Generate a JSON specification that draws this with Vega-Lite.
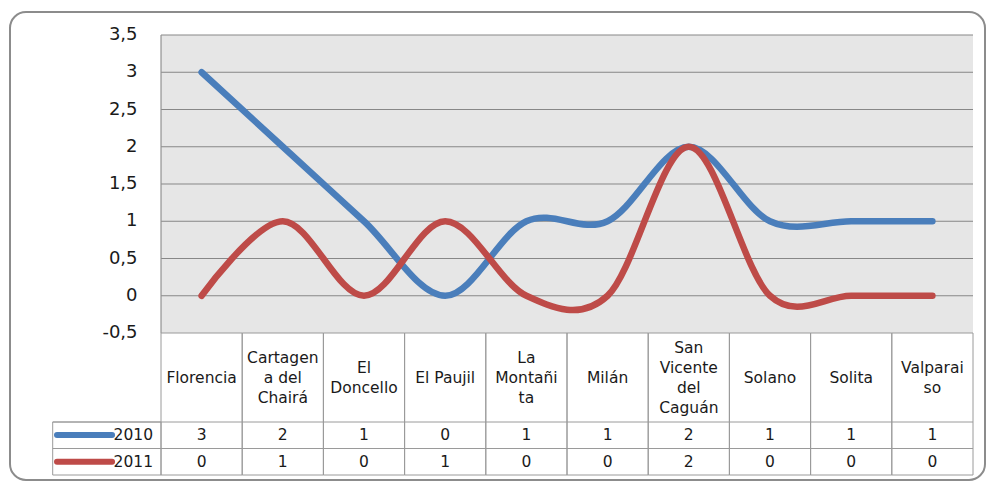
{
  "$schema": "https://vega.github.io/schema/vega-lite/v6.json",
  "width": 975,
  "height": 468,
  "autosize": {"type": "none"},
  "padding": {"left": 10, "top": 12, "right": 2, "bottom": 1},
  "background": "white",
  "config": {
    "view": {"stroke": "#8c8c8c", "strokeWidth": 2, "cornerRadius": 16, "fill": "white"},
    "font": "DejaVu Sans",
    "text": {"font": "DejaVu Sans", "fontSize": 15.5, "color": "#1a1a1a"},
    "locale": {"number": {"decimal": ",", "thousands": ".", "grouping": [3], "currency": ["", " €"], "minus": "-"}}
  },
  "datasets": {
    "casos": [
      {"municipio": "Florencia", "etiqueta": ["Florencia"], "year": "2010", "value": 3},
      {"municipio": "Florencia", "etiqueta": ["Florencia"], "year": "2011", "value": 0},
      {"municipio": "Cartagena del Chairá", "etiqueta": ["Cartagen", "a del", "Chairá"], "year": "2010", "value": 2},
      {"municipio": "Cartagena del Chairá", "etiqueta": ["Cartagen", "a del", "Chairá"], "year": "2011", "value": 1},
      {"municipio": "El Doncello", "etiqueta": ["El", "Doncello"], "year": "2010", "value": 1},
      {"municipio": "El Doncello", "etiqueta": ["El", "Doncello"], "year": "2011", "value": 0},
      {"municipio": "El Paujil", "etiqueta": ["El Paujil"], "year": "2010", "value": 0},
      {"municipio": "El Paujil", "etiqueta": ["El Paujil"], "year": "2011", "value": 1},
      {"municipio": "La Montañita", "etiqueta": ["La", "Montañi", "ta"], "year": "2010", "value": 1},
      {"municipio": "La Montañita", "etiqueta": ["La", "Montañi", "ta"], "year": "2011", "value": 0},
      {"municipio": "Milán", "etiqueta": ["Milán"], "year": "2010", "value": 1},
      {"municipio": "Milán", "etiqueta": ["Milán"], "year": "2011", "value": 0},
      {"municipio": "San Vicente del Caguán", "etiqueta": ["San", "Vicente", "del", "Caguán"], "year": "2010", "value": 2},
      {"municipio": "San Vicente del Caguán", "etiqueta": ["San", "Vicente", "del", "Caguán"], "year": "2011", "value": 2},
      {"municipio": "Solano", "etiqueta": ["Solano"], "year": "2010", "value": 1},
      {"municipio": "Solano", "etiqueta": ["Solano"], "year": "2011", "value": 0},
      {"municipio": "Solita", "etiqueta": ["Solita"], "year": "2010", "value": 1},
      {"municipio": "Solita", "etiqueta": ["Solita"], "year": "2011", "value": 0},
      {"municipio": "Valparaiso", "etiqueta": ["Valparai", "so"], "year": "2010", "value": 1},
      {"municipio": "Valparaiso", "etiqueta": ["Valparai", "so"], "year": "2011", "value": 0}
    ],
    "rejilla": [
      {"v": -0.5}, {"v": 0}, {"v": 0.5}, {"v": 1}, {"v": 1.5}, {"v": 2}, {"v": 2.5}, {"v": 3}, {"v": 3.5}
    ],
    "marco": [{"elemento": "tabla"}]
  },
  "data": {"name": "casos"},
  "resolve": {"scale": {"x": "independent"}},
  "layer": [
    {
      "layer": [
        {
          "data": {"name": "marco"},
          "mark": {"type": "rect", "fill": "#e6e6e6"},
          "encoding": {
            "x": {"datum": 0, "type": "quantitative", "scale": {"domain": [-1.334, 10], "range": [42.7, 963], "nice": false, "zero": false}, "axis": null},
            "x2": {"datum": 10},
            "y": {"datum": 3.5, "type": "quantitative", "scale": {"domain": [-2.406, 3.5], "range": [463, 23], "nice": false, "zero": false}, "axis": null},
            "y2": {"datum": -0.5}
          }
        },
        {
          "data": {"name": "rejilla"},
          "transform": [{"filter": "datum.v >= 0"}],
          "mark": {"type": "rule", "color": "#878787", "strokeWidth": 1},
          "encoding": {
            "x": {"datum": 0, "type": "quantitative", "scale": {"domain": [-1.334, 10], "range": [42.7, 963], "nice": false, "zero": false}, "axis": null},
            "x2": {"datum": 10},
            "y": {"field": "v", "type": "quantitative", "scale": {"domain": [-2.406, 3.5], "range": [463, 23], "nice": false, "zero": false}, "axis": null}
          }
        },
        {
          "data": {"name": "rejilla"},
          "mark": {"type": "text", "align": "right", "baseline": "middle", "fontSize": 18},
          "encoding": {
            "x": {"datum": -0.2894, "type": "quantitative", "scale": {"domain": [-1.334, 10], "range": [42.7, 963], "nice": false, "zero": false}, "axis": null},
            "y": {"field": "v", "type": "quantitative", "scale": {"domain": [-2.406, 3.5], "range": [463, 23], "nice": false, "zero": false}, "axis": null},
            "text": {"field": "v", "type": "quantitative", "format": ".1~f"}
          }
        },
        {
          "data": {"name": "marco"},
          "mark": {"type": "rule", "color": "#929292", "strokeWidth": 1.2},
          "encoding": {
            "x": {"datum": 0, "type": "quantitative", "scale": {"domain": [-1.334, 10], "range": [42.7, 963], "nice": false, "zero": false}, "axis": null},
            "y": {"datum": 3.5, "type": "quantitative", "scale": {"domain": [-2.406, 3.5], "range": [463, 23], "nice": false, "zero": false}, "axis": null},
            "y2": {"datum": -0.5}
          }
        },
        {
          "data": {"name": "marco"},
          "mark": {"type": "rect", "filled": false, "stroke": "#9a9a9a", "strokeWidth": 1},
          "encoding": {
            "x": {"datum": -1.334, "type": "quantitative", "scale": {"domain": [-1.334, 10], "range": [42.7, 963], "nice": false, "zero": false}, "axis": null},
            "x2": {"datum": 0},
            "y": {"datum": -1.6946, "type": "quantitative", "scale": {"domain": [-2.406, 3.5], "range": [463, 23], "nice": false, "zero": false}, "axis": null},
            "y2": {"datum": -2.406}
          }
        },
        {
          "data": {"name": "marco"},
          "mark": {"type": "rule", "color": "#9a9a9a", "strokeWidth": 1},
          "encoding": {
            "x": {"datum": -1.334, "type": "quantitative", "scale": {"domain": [-1.334, 10], "range": [42.7, 963], "nice": false, "zero": false}, "axis": null},
            "x2": {"datum": 10},
            "y": {"datum": -1.6946, "type": "quantitative", "scale": {"domain": [-2.406, 3.5], "range": [463, 23], "nice": false, "zero": false}, "axis": null}
          }
        },
        {
          "data": {"name": "marco"},
          "mark": {"type": "rule", "color": "#9a9a9a", "strokeWidth": 1},
          "encoding": {
            "x": {"datum": -1.334, "type": "quantitative", "scale": {"domain": [-1.334, 10], "range": [42.7, 963], "nice": false, "zero": false}, "axis": null},
            "x2": {"datum": 10},
            "y": {"datum": -2.0503, "type": "quantitative", "scale": {"domain": [-2.406, 3.5], "range": [463, 23], "nice": false, "zero": false}, "axis": null}
          }
        },
        {
          "transform": [{"filter": "datum.municipio === 'Florencia' && datum.year === '2010'"}],
          "mark": {"type": "rule", "strokeWidth": 6, "strokeCap": "round"},
          "encoding": {
            "x": {"datum": -1.281, "type": "quantitative", "scale": {"domain": [-1.334, 10], "range": [42.7, 963], "nice": false, "zero": false}, "axis": null},
            "x2": {"datum": -0.603},
            "y": {"datum": -1.869, "type": "quantitative", "scale": {"domain": [-2.406, 3.5], "range": [463, 23], "nice": false, "zero": false}, "axis": null},
            "color": {"field": "year", "type": "nominal", "scale": {"domain": ["2010", "2011"], "range": ["#4a7ebb", "#be4b48"]}, "legend": null}
          }
        },
        {
          "transform": [{"filter": "datum.municipio === 'Florencia' && datum.year === '2011'"}],
          "mark": {"type": "rule", "strokeWidth": 6, "strokeCap": "round"},
          "encoding": {
            "x": {"datum": -1.281, "type": "quantitative", "scale": {"domain": [-1.334, 10], "range": [42.7, 963], "nice": false, "zero": false}, "axis": null},
            "x2": {"datum": -0.603},
            "y": {"datum": -2.228, "type": "quantitative", "scale": {"domain": [-2.406, 3.5], "range": [463, 23], "nice": false, "zero": false}, "axis": null},
            "color": {"field": "year", "type": "nominal", "scale": {"domain": ["2010", "2011"], "range": ["#4a7ebb", "#be4b48"]}, "legend": null}
          }
        },
        {
          "transform": [{"filter": "datum.municipio === 'Florencia' && datum.year === '2010'"}],
          "mark": {"type": "text", "align": "right", "baseline": "middle"},
          "encoding": {
            "x": {"datum": -0.0985, "type": "quantitative", "scale": {"domain": [-1.334, 10], "range": [42.7, 963], "nice": false, "zero": false}, "axis": null},
            "y": {"datum": -1.869, "type": "quantitative", "scale": {"domain": [-2.406, 3.5], "range": [463, 23], "nice": false, "zero": false}, "axis": null},
            "text": {"field": "year", "type": "nominal"}
          }
        },
        {
          "transform": [{"filter": "datum.municipio === 'Florencia' && datum.year === '2011'"}],
          "mark": {"type": "text", "align": "right", "baseline": "middle"},
          "encoding": {
            "x": {"datum": -0.0985, "type": "quantitative", "scale": {"domain": [-1.334, 10], "range": [42.7, 963], "nice": false, "zero": false}, "axis": null},
            "y": {"datum": -2.228, "type": "quantitative", "scale": {"domain": [-2.406, 3.5], "range": [463, 23], "nice": false, "zero": false}, "axis": null},
            "text": {"field": "year", "type": "nominal"}
          }
        }
      ]
    },
    {
      "encoding": {
        "x": {
          "field": "municipio",
          "type": "nominal",
          "sort": ["Florencia", "Cartagena del Chairá", "El Doncello", "El Paujil", "La Montañita", "Milán", "San Vicente del Caguán", "Solano", "Solita", "Valparaiso"],
          "scale": {"type": "band", "range": [151, 963], "paddingInner": 0, "paddingOuter": 0},
          "axis": null
        }
      },
      "layer": [
        {
          "transform": [{"filter": "datum.year === '2010'"}],
          "mark": {"type": "rect", "filled": false, "stroke": "#9a9a9a", "strokeWidth": 1},
          "encoding": {
            "y": {"datum": -0.5, "type": "quantitative", "scale": {"domain": [-2.406, 3.5], "range": [463, 23], "nice": false, "zero": false}, "axis": null},
            "y2": {"datum": -2.406}
          }
        },
        {
          "transform": [{"filter": "datum.year === '2010' && length(datum.etiqueta) === 1"}],
          "mark": {"type": "text", "align": "center", "baseline": "middle", "lineHeight": 20},
          "encoding": {
            "y": {"datum": -1.104, "type": "quantitative", "scale": {"domain": [-2.406, 3.5], "range": [463, 23], "nice": false, "zero": false}, "axis": null},
            "text": {"field": "etiqueta"}
          }
        },
        {
          "transform": [{"filter": "datum.year === '2010' && length(datum.etiqueta) === 2"}],
          "mark": {"type": "text", "align": "center", "baseline": "middle", "lineHeight": 20},
          "encoding": {
            "y": {"datum": -0.9698, "type": "quantitative", "scale": {"domain": [-2.406, 3.5], "range": [463, 23], "nice": false, "zero": false}, "axis": null},
            "text": {"field": "etiqueta"}
          }
        },
        {
          "transform": [{"filter": "datum.year === '2010' && length(datum.etiqueta) === 3"}],
          "mark": {"type": "text", "align": "center", "baseline": "middle", "lineHeight": 20},
          "encoding": {
            "y": {"datum": -0.8356, "type": "quantitative", "scale": {"domain": [-2.406, 3.5], "range": [463, 23], "nice": false, "zero": false}, "axis": null},
            "text": {"field": "etiqueta"}
          }
        },
        {
          "transform": [{"filter": "datum.year === '2010' && length(datum.etiqueta) === 4"}],
          "mark": {"type": "text", "align": "center", "baseline": "middle", "lineHeight": 20},
          "encoding": {
            "y": {"datum": -0.7013, "type": "quantitative", "scale": {"domain": [-2.406, 3.5], "range": [463, 23], "nice": false, "zero": false}, "axis": null},
            "text": {"field": "etiqueta"}
          }
        },
        {
          "transform": [{"filter": "datum.year === '2010'"}],
          "mark": {"type": "text", "align": "center", "baseline": "middle"},
          "encoding": {
            "y": {"datum": -1.869, "type": "quantitative", "scale": {"domain": [-2.406, 3.5], "range": [463, 23], "nice": false, "zero": false}, "axis": null},
            "text": {"field": "value", "type": "quantitative"}
          }
        },
        {
          "transform": [{"filter": "datum.year === '2011'"}],
          "mark": {"type": "text", "align": "center", "baseline": "middle"},
          "encoding": {
            "y": {"datum": -2.228, "type": "quantitative", "scale": {"domain": [-2.406, 3.5], "range": [463, 23], "nice": false, "zero": false}, "axis": null},
            "text": {"field": "value", "type": "quantitative"}
          }
        },
        {
          "mark": {"type": "line", "interpolate": "cardinal", "strokeWidth": 6.5, "strokeCap": "round", "strokeJoin": "round"},
          "encoding": {
            "y": {"field": "value", "type": "quantitative", "scale": {"domain": [-2.406, 3.5], "range": [463, 23], "nice": false, "zero": false}, "axis": null},
            "color": {"field": "year", "type": "nominal", "scale": {"domain": ["2010", "2011"], "range": ["#4a7ebb", "#be4b48"]}, "legend": null}
          }
        }
      ]
    }
  ]
}
